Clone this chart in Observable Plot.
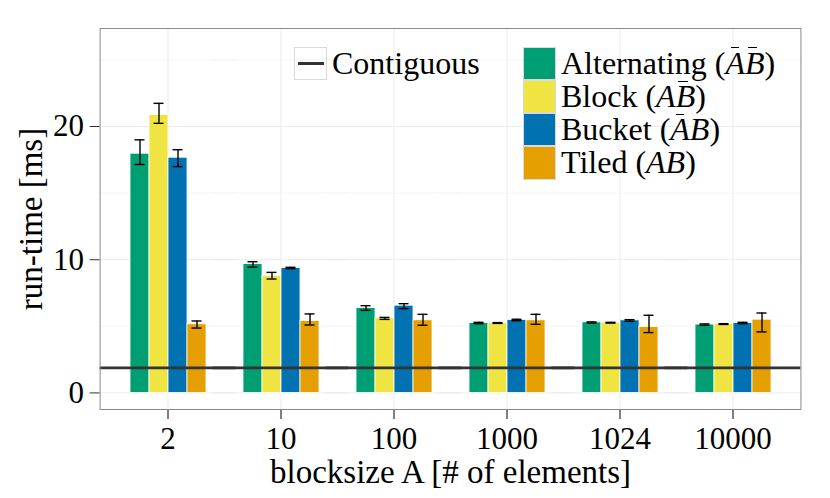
<!DOCTYPE html>
<html><head><meta charset="utf-8">
<script src="https://cdn.jsdelivr.net/npm/d3@7"></script>
<script src="https://cdn.jsdelivr.net/npm/@observablehq/plot@0.6"></script>
<style>
body{margin:0;background:#fff;}
#wrap{position:relative;width:830px;height:498px;font-family:"Liberation Serif",serif;}
.leg{position:absolute;font-size:32px;line-height:33.2px;color:#000;white-space:nowrap;}
.sw{position:absolute;box-sizing:border-box;border:1px solid #d9d9d9;}
.m{font-style:italic;}
.ob{position:relative;display:inline-block;}
.ob::after{content:"";position:absolute;top:0.8px;height:0;border-top:1.4px solid #000;left:var(--l);width:var(--w);}
g[aria-label="fx-axis label"] text, g[aria-label="y-axis label"] text{font-size:33px;}
</style></head><body><div id="wrap"></div>
<script>
// ---- data ----
const groups = ["2", "10", "100", "1000", "1024", "10000"];
const series = ["Alternating", "Block", "Bucket", "Tiled"];
const colors = ["#009E73", "#F0E442", "#0072B2", "#E69F00"];

const alternatingMean = [17.96, 9.68, 6.38, 5.25, 5.30, 5.13];
const alternatingLo   = [17.15, 9.45, 6.20, 5.20, 5.25, 5.08];
const alternatingHi   = [19.00, 9.85, 6.55, 5.30, 5.33, 5.18];

const blockMean = [20.86, 8.78, 5.60, 5.25, 5.28, 5.18];
const blockLo   = [20.24, 8.55, 5.52, 5.22, 5.24, 5.14];
const blockHi   = [21.74, 9.05, 5.67, 5.28, 5.30, 5.20];

const bucketMean = [17.66, 9.38, 6.55, 5.48, 5.45, 5.25];
const bucketLo   = [16.99, 9.33, 6.33, 5.42, 5.38, 5.20];
const bucketHi   = [18.26, 9.43, 6.70, 5.53, 5.50, 5.30];

const tiledMean = [5.15, 5.40, 5.45, 5.45, 4.95, 5.50];
const tiledLo   = [4.87, 5.10, 5.08, 5.15, 4.53, 4.58];
const tiledHi   = [5.40, 5.93, 5.90, 5.90, 5.83, 6.00];

const contiguous = [1.88];
const yTicks = [0, 10, 20];
const yMinor = [5, 15, 25];

// ---- table ----
const means = [alternatingMean, blockMean, bucketMean, tiledMean];
const los = [alternatingLo, blockLo, bucketLo, tiledLo];
const his = [alternatingHi, blockHi, bucketHi, tiledHi];
const rows = [];
groups.forEach((g, gi) => series.forEach((s, si) => rows.push({
  group: g, series: s, value: means[si][gi], lo: los[si][gi], hi: his[si][gi]
})));

// the panel reaches past the outer facets by the outer band padding
const outer = -28.4;
const span = {insetLeft: outer, insetRight: outer};

const plot = Plot.plot({
  width: 830, height: 498,
  marginLeft: 99, marginRight: 28, marginTop: 28, marginBottom: 89,
  style: {fontFamily: '"Liberation Serif", serif', fontSize: "31px", color: "#000", background: "#fff", overflow: "visible"},
  fx: {domain: groups, paddingInner: 0.3, paddingOuter: 0.25, label: "blocksize A [# of elements]",
       labelAnchor: "center", labelOffset: 73, labelArrow: "none", tickSize: 10, tickPadding: 7},
  x: {domain: series, padding: 0, axis: null},
  y: {domain: [-1.245, 27.36], axis: null},
  color: {domain: series, range: colors},
  marks: [
    Plot.ruleY(yMinor, {stroke: "#f4f4f4", strokeWidth: 1, ...span}),
    Plot.ruleY(yTicks, {stroke: "#ebebeb", strokeWidth: 1, ...span}),
    Plot.gridFx({stroke: "#ebebeb", strokeOpacity: 1}),
    Plot.axisY({ticks: yTicks, tickSize: 10, tickPadding: 6, dx: outer, stroke: "#333",
                label: "run-time [ms]", labelAnchor: "center", labelOffset: 110, labelArrow: "none"}),
    Plot.barY(rows, {fx: "group", x: "series", y: "value", fill: "series", stroke: "#fff", strokeWidth: 0.8}),
    Plot.ruleX(rows, {fx: "group", x: "series", y1: "lo", y2: "hi", stroke: "#000", strokeWidth: 1.4}),
    Plot.tickY(rows, {fx: "group", x: "series", y: "lo", inset: 4.5, stroke: "#000", strokeWidth: 1.4}),
    Plot.tickY(rows, {fx: "group", x: "series", y: "hi", inset: 4.5, stroke: "#000", strokeWidth: 1.4}),
    Plot.ruleY(contiguous, {stroke: "#333", strokeWidth: 2.8, ...span}),
    Plot.frame({stroke: "#8a8a8a", strokeWidth: 1, facet: "super", ...span})
  ]
});
const wrap = document.getElementById("wrap");
wrap.appendChild(plot);

// ---- legend overlay ----
const bar = (ch, l, w) => `<span class="ob" style="--l:${l};--w:${w}">${ch}</span>`;
const legendLabels = [
  `Alternating (<span class="m">${bar("A", "28%", "42%")}${bar("B", "14%", "48%")}</span>)`,
  `Block (<span class="m">A${bar("B", "14%", "48%")}</span>)`,
  `Bucket (<span class="m">${bar("A", "28%", "42%")}B</span>)`,
  `Tiled (<span class="m">AB</span>)`
];
function add(html, style, cls) {
  const d = document.createElement("div");
  d.className = cls; d.innerHTML = html; Object.assign(d.style, style); wrap.appendChild(d);
}
add("", {left: "293.5px", top: "46.7px", width: "33.5px", height: "33.5px"}, "sw");
add("", {left: "297.5px", top: "62px", width: "26px", height: "3px", background: "#333", border: "none"}, "sw");
add("Contiguous", {left: "332px", top: "46.7px"}, "leg");
series.forEach((s, i) => {
  add("", {left: "522.7px", top: (46.7 + i * 33.2) + "px", width: "33.5px", height: "33.4px", background: colors[i]}, "sw");
  add(legendLabels[i], {left: "561px", top: (46.7 + i * 33.2) + "px"}, "leg");
});
</script></body></html>
